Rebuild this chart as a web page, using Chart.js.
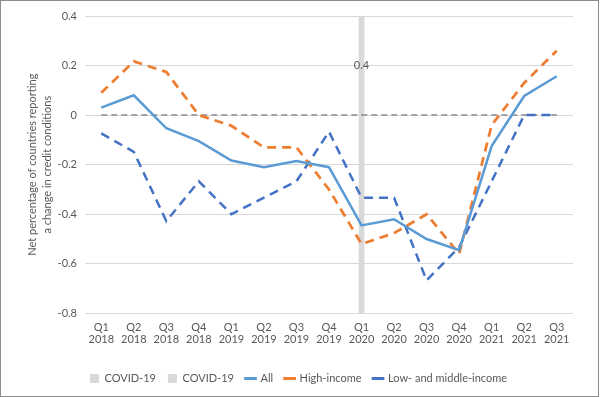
<!DOCTYPE html>
<html><head><meta charset="utf-8">
<script src="https://cdn.jsdelivr.net/npm/chart.js@4/dist/chart.umd.min.js"></script>
<style>
html,body{margin:0;padding:0;background:#fff;}
#wrap{position:absolute;left:0;top:0;width:597px;height:395px;border:1px solid #8c8c8c;background:#fff;}
canvas{display:block}
</style></head><body>
<div id="wrap"><canvas id="c" width="597" height="395"></canvas></div>
<script>
const categories = [
  ['Q1','2018'],['Q2','2018'],['Q3','2018'],['Q4','2018'],
  ['Q1','2019'],['Q2','2019'],['Q3','2019'],['Q4','2019'],
  ['Q1','2020'],['Q2','2020'],['Q3','2020'],['Q4','2020'],
  ['Q1','2021'],['Q2','2021'],['Q3','2021']
];
const covidUpper = [null,null,null,null,null,null,null,null,0.4,null,null,null,null,null,null];
const covidLower = [null,null,null,null,null,null,null,null,-0.8,null,null,null,null,null,null];
const allCountries = [0.03,0.08,-0.053,-0.105,-0.183,-0.21,-0.185,-0.21,-0.445,-0.42,-0.5,-0.545,-0.125,0.077,0.157];
const highIncome = [0.09,0.217,0.174,0,-0.043,-0.13,-0.13,-0.3,-0.52,-0.476,-0.4,-0.56,-0.04,0.13,0.26];
const lowMiddleIncome = [-0.074,-0.148,-0.428,-0.267,-0.4,-0.333,-0.267,-0.067,-0.333,-0.333,-0.667,-0.533,-0.267,0,0];
const zeroLine = [0,0,0,0,0,0,0,0,0,0,0,0,0,0,0];
const yTicks = {min:-0.8, max:0.4, step:0.2};

const TXT = '#595959';
Chart.defaults.font.family = 'Lato, "Open Sans", sans-serif';
Chart.defaults.font.size = 11;
Chart.defaults.color = TXT;

const barLabelPlugin = {
  id:'barLabel',
  afterDatasetsDraw(chart){
    const ctx = chart.ctx;
    const meta = chart.getDatasetMeta(0);
    const ds = chart.data.datasets[0];
    ctx.save();
    ctx.fillStyle = TXT;
    ctx.font = '11px Lato, "Open Sans", sans-serif';
    ctx.textAlign = 'center';
    ctx.textBaseline = 'middle';
    meta.data.forEach((el,i)=>{
      const v = ds.data[i];
      if (v === null || v === undefined) return;
      ctx.fillText(String(v), el.x, (el.y + el.base)/2);
    });
    ctx.restore();
  }
};

new Chart(document.getElementById('c'), {
  type:'line',
  data:{
    labels: categories,
    datasets:[
      {type:'bar', label:'COVID-19', data:covidUpper, backgroundColor:'#D9D9D9', borderWidth:0, barThickness:5, grouped:false, order:10},
      {type:'bar', label:'COVID-19', data:covidLower, backgroundColor:'#D9D9D9', borderWidth:0, barThickness:5, grouped:false, order:10},
      {type:'line', label:'All', data:allCountries, borderColor:'#5B9BD5', backgroundColor:'#5B9BD5', borderWidth:2.5, pointRadius:0, tension:0, order:1},
      {type:'line', label:'High-income', data:highIncome, borderColor:'#ED7D31', backgroundColor:'#ED7D31', borderWidth:2.75, borderDash:[9,6], pointRadius:0, tension:0, order:1},
      {type:'line', label:'Low- and middle-income', data:lowMiddleIncome, borderColor:'#4472C4', backgroundColor:'#4472C4', borderWidth:2.5, borderDash:[9,6], pointRadius:0, tension:0, order:1},
      {type:'line', label:'', data:zeroLine, borderColor:'#8C8C8C', borderWidth:1.5, borderDash:[6,4], pointRadius:0, tension:0, order:2}
    ]
  },
  options:{
    responsive:false,
    animation:false,
    layout:{padding:{left:23, right:25, top:15, bottom:2}},
    plugins:{
      tooltip:{enabled:false},
      legend:{
        position:'bottom',
        labels:{
          usePointStyle:true, boxWidth:9, boxHeight:9, padding:12, color:TXT,
          font:{size:11},
          sort:(a,b)=>a.datasetIndex-b.datasetIndex,
          generateLabels(chart){
            return chart.data.datasets.map((ds,i)=>({
              text: ds.label, datasetIndex:i,
              fillStyle: ds.backgroundColor, strokeStyle: ds.type==='bar'?ds.backgroundColor:ds.borderColor,
              lineWidth: ds.type==='bar'?0:3, pointStyle: ds.type==='bar'?'rect':'line',
              lineDash:[], hidden:false, fontColor:TXT
            })).filter(l=>l.text!=='');
          }
        }
      }
    },
    scales:{
      x:{
        grid:{display:false}, border:{display:false},
        ticks:{color:TXT, padding:0, maxRotation:0, autoSkip:false, font:{size:11, lineHeight:1.12}},
        afterFit(scale){ scale.height += 15; }
      },
      y:{
        min:yTicks.min, max:yTicks.max,
        border:{display:false},
        grid:{color:'#D9D9D9', lineWidth:1, drawTicks:false},
        ticks:{stepSize:yTicks.step, padding:8, color:TXT, font:{size:11},
          callback:(v)=>String(Math.round(v*10)/10)},
        title:{display:true, text:['Net percentage of countries reporting','a change in credit conditions'], color:TXT, font:{size:11, lineHeight:1.45}, padding:0},
        afterFit(scale){ scale.width = 61; }
      }
    }
  },
  plugins:[barLabelPlugin]
});
</script>
</body></html>
